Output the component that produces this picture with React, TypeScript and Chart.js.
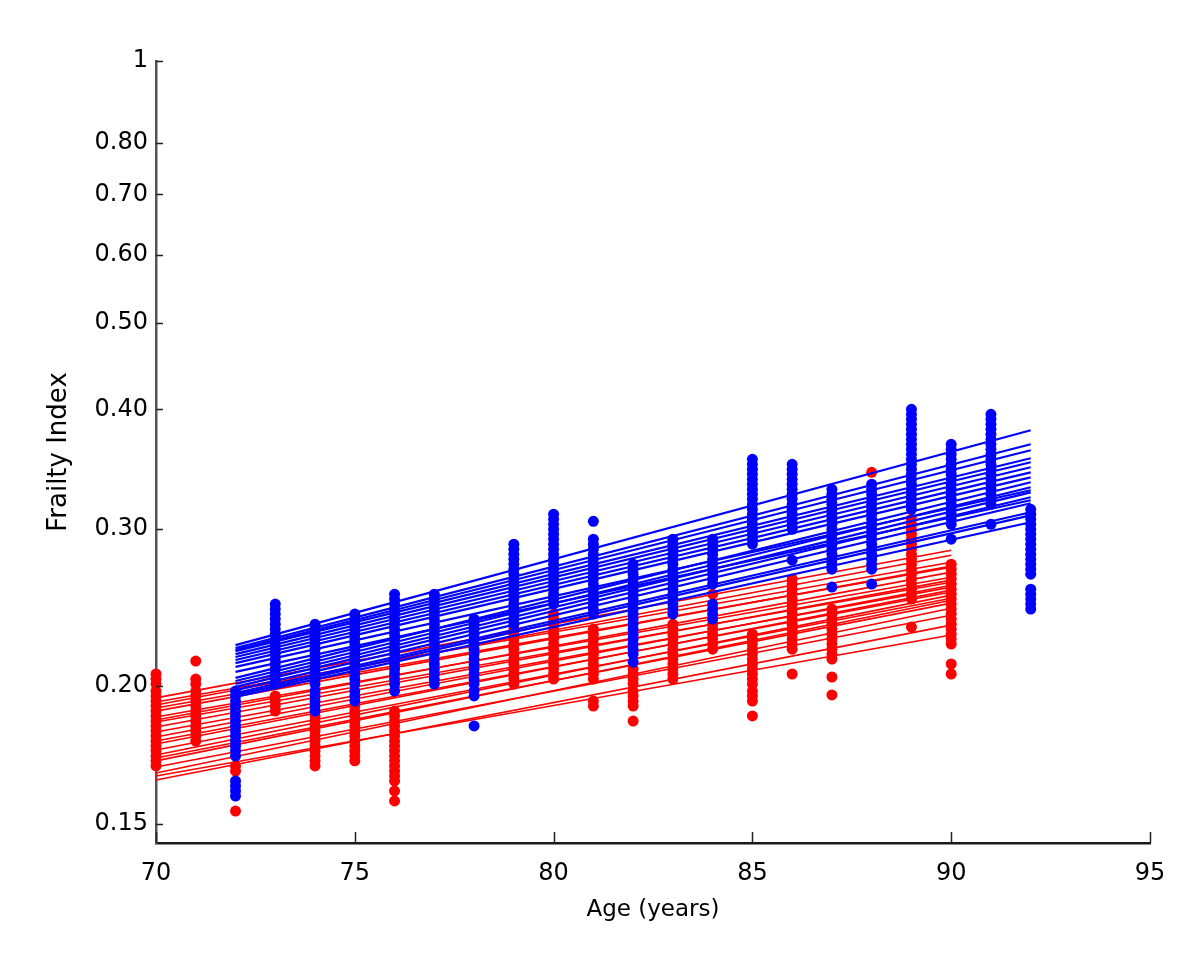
import React, { useEffect, useRef } from 'react';
import { Chart, LinearScale, registerables } from 'chart.js';

Chart.register(...registerables);

// ---------------- axes ----------------
const AGE_MIN = 70;
const AGE_MAX = 95;
const AGE_STEP = 5;

const Y_MIN = 0.1439;
const Y_MAX = 1;
const Y_TICK_VALUES = [0.15, 0.2, 0.3, 0.4, 0.5, 0.6, 0.7, 0.8, 1];
const Y_TICK_LABELS = ['0.15', '0.20', '0.30', '0.40', '0.50', '0.60', '0.70', '0.80', '1'];
// the reference y axis is non-uniform: fraction of the axis height at which each tick value sits
const Y_TICK_HEIGHTS = [0.0243, 0.2008, 0.4012, 0.5546, 0.6654, 0.7519, 0.8295, 0.8951, 1];

// ---------------- dots (frailty index per age) ----------------
const RED_AGES = [70, 71, 72, 73, 74, 75, 76, 79, 80, 81, 82, 83, 84, 85, 86, 87, 88, 89, 90];
const RED_FI = [
  [0.2063, 0.2036, 0.201, 0.1979, 0.1959, 0.1938, 0.1918, 0.1898, 0.1879, 0.1859, 0.184, 0.1821, 0.1802, 0.1783, 0.1765, 0.1747, 0.1728, 0.1711, 0.1693],
  [0.2133, 0.2036, 0.201, 0.1979, 0.1959, 0.1938, 0.1918, 0.1898, 0.1879, 0.1859, 0.184, 0.1821, 0.1802, 0.1783],
  [0.1693, 0.1675, 0.1541],
  [0.1959, 0.1938, 0.1918, 0.1898],
  [0.1879, 0.1859, 0.184, 0.1821, 0.1802, 0.1783, 0.1765, 0.1747, 0.1728, 0.1711, 0.1693],
  [0.1918, 0.1898, 0.1879, 0.1859, 0.184, 0.1821, 0.1802, 0.1783, 0.1765, 0.1747, 0.1728, 0.1711],
  [0.1898, 0.1879, 0.1859, 0.184, 0.1821, 0.1802, 0.1783, 0.1765, 0.1747, 0.1728, 0.1711, 0.1693, 0.1675, 0.1658, 0.1641, 0.1607, 0.1574],
  [0.2317, 0.2287, 0.2258, 0.2229, 0.22, 0.2172, 0.2144, 0.2117, 0.209, 0.2063, 0.2036, 0.201],
  [0.2409, 0.2378, 0.2347, 0.2317, 0.2287, 0.2258, 0.2229, 0.22, 0.2172, 0.2144, 0.2117, 0.209, 0.2063, 0.2036],
  [0.2317, 0.2287, 0.2258, 0.2229, 0.22, 0.2172, 0.2144, 0.2117, 0.209, 0.2063, 0.2036, 0.1938, 0.1918],
  [0.209, 0.2063, 0.2036, 0.201, 0.1979, 0.1959, 0.1938, 0.1918, 0.1859],
  [0.2347, 0.2317, 0.2287, 0.2258, 0.2229, 0.22, 0.2172, 0.2144, 0.2117, 0.209, 0.2063, 0.2036],
  [0.2536, 0.2347, 0.2317, 0.2287, 0.2258, 0.2229, 0.22],
  [0.2287, 0.2258, 0.2229, 0.22, 0.2172, 0.2144, 0.2117, 0.209, 0.2063, 0.2036, 0.201, 0.1979, 0.1959, 0.1938, 0.1879],
  [0.2637, 0.2603, 0.2569, 0.2536, 0.2504, 0.2472, 0.244, 0.2409, 0.2378, 0.2347, 0.2317, 0.2287, 0.2258, 0.2229, 0.22, 0.2063],
  [0.244, 0.2409, 0.2378, 0.2347, 0.2317, 0.2287, 0.2258, 0.2229, 0.22, 0.2172, 0.2144, 0.2047, 0.1963],
  [0.3439],
  [0.3073, 0.3036, 0.3, 0.2962, 0.2924, 0.2886, 0.2849, 0.2812, 0.2776, 0.2741, 0.2706, 0.2671, 0.2637, 0.2603, 0.2569, 0.2536, 0.2504, 0.2329],
  [0.2741, 0.2706, 0.2671, 0.2637, 0.2603, 0.2569, 0.2536, 0.2504, 0.2472, 0.244, 0.2409, 0.2378, 0.2347, 0.2317, 0.2287, 0.2258, 0.2229, 0.2117, 0.2063],
];

const BLUE_AGES = [72, 73, 74, 75, 76, 77, 78, 79, 80, 81, 82, 83, 84, 85, 86, 87, 88, 89, 90, 91, 92];
const BLUE_FI = [
  [0.1979, 0.1959, 0.1938, 0.1918, 0.1898, 0.1879, 0.1859, 0.184, 0.1821, 0.1802, 0.1783, 0.1765, 0.1747, 0.1728, 0.1641, 0.1624, 0.1607, 0.159],
  [0.2472, 0.244, 0.2409, 0.2378, 0.2347, 0.2317, 0.2287, 0.2258, 0.2229, 0.22, 0.2172, 0.2144, 0.2117, 0.209, 0.2063, 0.2036, 0.201],
  [0.2347, 0.2317, 0.2287, 0.2258, 0.2229, 0.22, 0.2172, 0.2144, 0.2117, 0.209, 0.2063, 0.2036, 0.201, 0.1979, 0.1959, 0.1938, 0.1918, 0.1898],
  [0.2409, 0.2378, 0.2347, 0.2317, 0.2287, 0.2258, 0.2229, 0.22, 0.2172, 0.2144, 0.2117, 0.209, 0.2063, 0.2036, 0.201, 0.1979, 0.1959, 0.1938],
  [0.2536, 0.2504, 0.2472, 0.244, 0.2409, 0.2378, 0.2347, 0.2317, 0.2287, 0.2258, 0.2229, 0.22, 0.2172, 0.2144, 0.2117, 0.209, 0.2063, 0.2036, 0.201, 0.1979],
  [0.2536, 0.2504, 0.2472, 0.244, 0.2409, 0.2378, 0.2347, 0.2317, 0.2287, 0.2258, 0.2229, 0.22, 0.2172, 0.2144, 0.2117, 0.209, 0.2063, 0.2036, 0.201],
  [0.2378, 0.2347, 0.2317, 0.2287, 0.2258, 0.2229, 0.22, 0.2172, 0.2144, 0.2117, 0.209, 0.2063, 0.2036, 0.201, 0.1979, 0.1959, 0.184],
  [0.2886, 0.2849, 0.2812, 0.2776, 0.2741, 0.2706, 0.2671, 0.2637, 0.2603, 0.2569, 0.2536, 0.2504, 0.2472, 0.244, 0.2409, 0.2378, 0.2347],
  [0.311, 0.3073, 0.3036, 0.3, 0.2962, 0.2924, 0.2886, 0.2849, 0.2812, 0.2776, 0.2741, 0.2706, 0.2671, 0.2637, 0.2603, 0.2569, 0.2536, 0.2504, 0.2472],
  [0.3058, 0.2924, 0.2886, 0.2849, 0.2812, 0.2776, 0.2741, 0.2706, 0.2671, 0.2637, 0.2603, 0.2569, 0.2536, 0.2504, 0.2472, 0.244, 0.2409],
  [0.2741, 0.2706, 0.2671, 0.2637, 0.2603, 0.2569, 0.2536, 0.2504, 0.2472, 0.244, 0.2409, 0.2378, 0.2347, 0.2317, 0.2287, 0.2258, 0.2229, 0.22, 0.2172, 0.2128],
  [0.2924, 0.2886, 0.2849, 0.2812, 0.2776, 0.2741, 0.2706, 0.2671, 0.2637, 0.2603, 0.2569, 0.2536, 0.2504, 0.2472, 0.244, 0.2409],
  [0.2924, 0.2886, 0.2849, 0.2812, 0.2776, 0.2741, 0.2706, 0.2671, 0.2637, 0.2603, 0.2472, 0.244, 0.2409, 0.2378],
  [0.3548, 0.3506, 0.3464, 0.3423, 0.3382, 0.3342, 0.3302, 0.3263, 0.3224, 0.3185, 0.3147, 0.311, 0.3073, 0.3036, 0.3, 0.2962, 0.2924, 0.2886],
  [0.3506, 0.3464, 0.3423, 0.3382, 0.3342, 0.3302, 0.3263, 0.3224, 0.3185, 0.3147, 0.311, 0.3073, 0.3036, 0.3, 0.2769],
  [0.3302, 0.3263, 0.3224, 0.3185, 0.3147, 0.311, 0.3073, 0.3036, 0.3, 0.2962, 0.2924, 0.2886, 0.2849, 0.2812, 0.2776, 0.2741, 0.2706, 0.2583],
  [0.3342, 0.3302, 0.3263, 0.3224, 0.3185, 0.3147, 0.311, 0.3073, 0.3036, 0.3, 0.2962, 0.2924, 0.2886, 0.2849, 0.2812, 0.2776, 0.2741, 0.2706, 0.2603],
  [0.4, 0.3952, 0.3905, 0.3859, 0.3813, 0.3767, 0.3722, 0.3678, 0.3634, 0.3591, 0.3548, 0.3506, 0.3464, 0.3423, 0.3382, 0.3342, 0.3302, 0.3263, 0.3224, 0.3185, 0.3147],
  [0.3678, 0.3634, 0.3591, 0.3548, 0.3506, 0.3464, 0.3423, 0.3382, 0.3342, 0.3302, 0.3263, 0.3224, 0.3185, 0.3147, 0.311, 0.3073, 0.3036, 0.2924],
  [0.3952, 0.3905, 0.3859, 0.3813, 0.3767, 0.3722, 0.3678, 0.3634, 0.3591, 0.3548, 0.3506, 0.3464, 0.3423, 0.3382, 0.3342, 0.3302, 0.3263, 0.3224, 0.3185, 0.3036],
  [0.3147, 0.311, 0.3073, 0.3036, 0.3, 0.2962, 0.2924, 0.2886, 0.2849, 0.2812, 0.2776, 0.2741, 0.2706, 0.2671, 0.2569, 0.2536, 0.2504, 0.2472, 0.244],
];

// ---------------- fitted trajectories (value at first and last age) ----------------
const RED_LINE_AGES = [70, 90];
const RED_LINE_START = [0.1951, 0.1934, 0.1922, 0.191, 0.1898, 0.1875, 0.1863, 0.1855, 0.1836, 0.1817, 0.1798, 0.1783, 0.1772, 0.175, 0.1732, 0.1721, 0.1711, 0.1689, 0.1668, 0.1658, 0.1644];
const RED_LINE_END = [0.2842, 0.2755, 0.2805, 0.272, 0.2727, 0.265, 0.2685, 0.2616, 0.263, 0.2583, 0.2596, 0.255, 0.2563, 0.251, 0.253, 0.2478, 0.2497, 0.2402, 0.2446, 0.2282, 0.2341];

const BLUE_LINE_AGES = [72, 92];
const BLUE_LINE_START = [0.2223, 0.2206, 0.2189, 0.2172, 0.2156, 0.2139, 0.2122, 0.2042, 0.2026, 0.201, 0.1996, 0.1983, 0.1971, 0.1955, 0.2195, 0.2101, 0.2074, 0.1963];
const BLUE_LINE_END = [0.3804, 0.3678, 0.3557, 0.3523, 0.3481, 0.3439, 0.3398, 0.3358, 0.3318, 0.3278, 0.3239, 0.3193, 0.3125, 0.3051, 0.3626, 0.3294, 0.3216, 0.3102];

const RED = '#ff0000';
const BLUE = '#0000ff';

// ---------------- custom warped y scale ----------------
const LN_TICKS = Y_TICK_VALUES.map((v) => Math.log(v));

function warp(v: number): number {
  const lv = Math.log(v);
  let i = 0;
  while (i < LN_TICKS.length - 2 && lv > LN_TICKS[i + 1]) i++;
  const t = (lv - LN_TICKS[i]) / (LN_TICKS[i + 1] - LN_TICKS[i]);
  return Y_TICK_HEIGHTS[i] + t * (Y_TICK_HEIGHTS[i + 1] - Y_TICK_HEIGHTS[i]);
}

function unwarp(f: number): number {
  let i = 0;
  while (i < Y_TICK_HEIGHTS.length - 2 && f > Y_TICK_HEIGHTS[i + 1]) i++;
  const t = (f - Y_TICK_HEIGHTS[i]) / (Y_TICK_HEIGHTS[i + 1] - Y_TICK_HEIGHTS[i]);
  return Math.exp(LN_TICKS[i] + t * (LN_TICKS[i + 1] - LN_TICKS[i]));
}

class WarpScale extends LinearScale {
  static id = 'warp';
  buildTicks() {
    return Y_TICK_VALUES.map((value) => ({ value }));
  }
  getPixelForValue(value: number) {
    return this.getPixelForDecimal(warp(value));
  }
  getValueForPixel(pixel: number) {
    return unwarp(this.getDecimalForPixel(pixel));
  }
}
Chart.register(WarpScale as any);

// inward tick marks (MATLAB style)
const inwardTicks = {
  id: 'inwardTicks',
  afterDatasetsDraw(chart: any) {
    const { ctx, chartArea, scales } = chart;
    ctx.save();
    ctx.strokeStyle = '#222';
    ctx.lineWidth = 1.5;
    ctx.beginPath();
    scales.x.ticks.forEach((_t: any, i: number) => {
      const px = Math.round(scales.x.getPixelForTick(i)) + 0.5;
      ctx.moveTo(px, chartArea.bottom);
      ctx.lineTo(px, chartArea.bottom - 11);
    });
    scales.y.ticks.forEach((_t: any, i: number) => {
      const py = Math.round(scales.y.getPixelForTick(i)) + 0.5;
      ctx.moveTo(chartArea.left, py);
      ctx.lineTo(chartArea.left + 7, py);
    });
    ctx.stroke();
    ctx.restore();
  },
};

export default function App() {
  const ref = useRef<HTMLCanvasElement | null>(null);

  useEffect(() => {
    document.body.style.margin = '0';
    if (!ref.current) return;

    const lineSets = (starts: number[], ends: number[], ages: number[], color: string, width: number, order: number) =>
      starts.map((s, i) => ({
        data: [
          { x: ages[0], y: s },
          { x: ages[1], y: ends[i] },
        ],
        showLine: true,
        borderColor: color,
        borderWidth: width,
        pointRadius: 0,
        pointHoverRadius: 0,
        fill: false,
        order,
        clip: false as any,
      }));

    const dotSet = (ages: number[], values: number[][], color: string, order: number) => ({
      data: ages.flatMap((a, i) => values[i].map((v) => ({ x: a, y: v }))),
      showLine: false,
      pointRadius: 5.5,
      pointHoverRadius: 5.5,
      pointBorderWidth: 0,
      backgroundColor: color,
      borderColor: color,
      order,
      clip: false as any,
    });

    const datasets: any[] = [
      dotSet(BLUE_AGES, BLUE_FI, BLUE, 0),
      ...lineSets(BLUE_LINE_START, BLUE_LINE_END, BLUE_LINE_AGES, BLUE, 2.2, 1),
      dotSet(RED_AGES, RED_FI, RED, 2),
      ...lineSets(RED_LINE_START, RED_LINE_END, RED_LINE_AGES, RED, 1.6, 3),
    ];

    const chart = new Chart(ref.current, {
      type: 'scatter',
      data: { datasets },
      options: {
        animation: false,
        responsive: false,
        devicePixelRatio: 1,
        events: [],
        layout: { padding: { top: 61, right: 50, bottom: 0, left: 0 } },
        plugins: { legend: { display: false }, tooltip: { enabled: false } },
        scales: {
          x: {
            type: 'linear',
            min: AGE_MIN,
            max: AGE_MAX,
            grid: { display: false, drawTicks: false },
            border: { display: true, color: '#1a1a1a', width: 2.5 },
            ticks: {
              stepSize: AGE_STEP,
              padding: 16,
              color: '#000',
              font: { family: 'DejaVu Sans', size: 24 },
            },
            title: {
              display: true,
              text: 'Age (years)',
              color: '#000',
              font: { family: 'DejaVu Sans', size: 23 },
              padding: { top: 4, bottom: 38 },
            },
            afterFit: (scale: any) => {
              scale.height = 119;
            },
          },
          y: {
            type: 'warp' as any,
            min: Y_MIN,
            max: Y_MAX,
            grid: { display: false, drawTicks: false },
            border: { display: true, color: '#555', width: 2.5 },
            ticks: {
              autoSkip: false,
              padding: 8,
              color: '#000',
              font: { family: 'DejaVu Sans', size: 24 },
              callback: (_v: any, i: number) => Y_TICK_LABELS[i],
            },
            title: {
              display: true,
              text: 'Frailty Index',
              color: '#000',
              font: { family: 'DejaVu Sans', size: 26 },
              padding: { top: 44, bottom: 0 },
            },
            afterFit: (scale: any) => {
              scale.width = 156;
            },
          },
        },
      } as any,
      plugins: [inwardTicks],
    });

    return () => chart.destroy();
  }, []);

  return (
    <div style={{ width: 1200, height: 962, background: '#fff' }}>
      <canvas ref={ref} width={1200} height={962} style={{ display: 'block' }} />
    </div>
  );
}
